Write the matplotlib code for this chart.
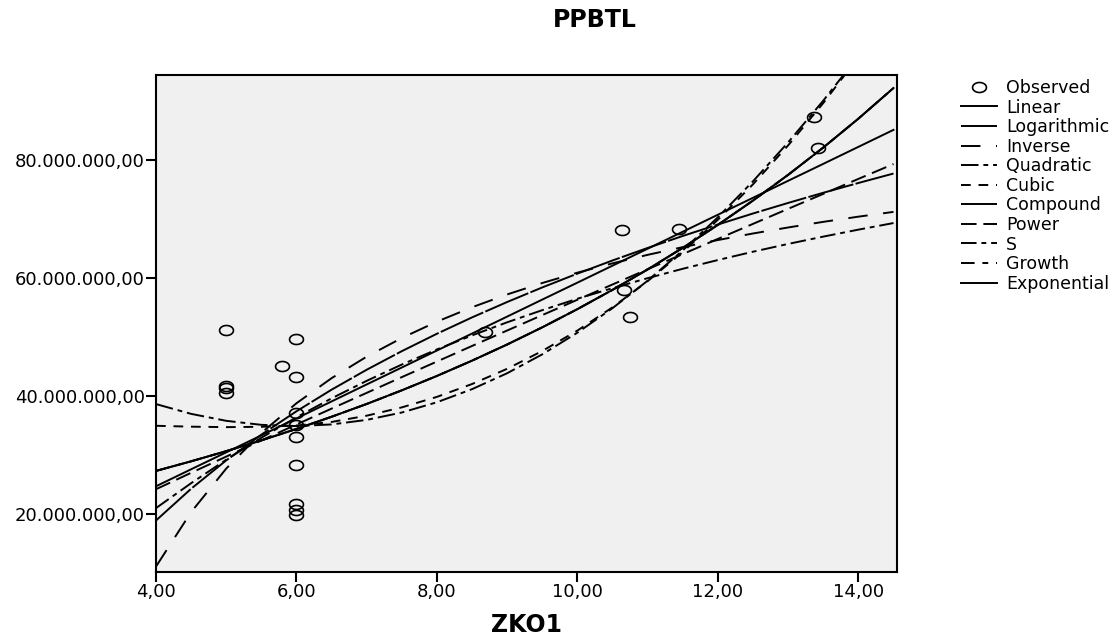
import numpy as np
import matplotlib
matplotlib.use("Agg")
import matplotlib.pyplot as plt
from matplotlib.path import Path
from matplotlib.ticker import FixedLocator, FuncFormatter

# ---------------- data (y values in millions) ----------------
obs_x = [5, 5, 5, 5, 5.8, 6, 6, 6, 6, 6, 6, 6, 6, 6,
         8.68, 10.63, 10.66, 10.75, 11.45, 13.37, 13.42]
obs_y = [51.2, 41.7, 41.3, 40.5, 45.0, 49.6, 43.3, 37.2, 35.0, 33.1, 28.3, 21.7, 20.7, 19.8,
         50.8, 68.1, 58.0, 53.4, 68.3, 87.2, 82.0]

fit_x = [4.0, 4.5, 5.0, 5.5, 6.0, 6.5, 7.0, 7.5, 8.0, 8.5, 9.0,
         9.5, 10.0, 10.5, 11.0, 11.5, 12.0, 12.5, 13.0, 13.5, 14.0, 14.5]

linear = [24.70, 27.58, 30.45, 33.33, 36.20, 39.08, 41.96, 44.83, 47.71, 50.58, 53.46,
          56.34, 59.21, 62.09, 64.96, 67.84, 70.72, 73.59, 76.47, 79.34, 82.22, 85.10]
logarithmic = [18.90, 24.28, 29.09, 33.44, 37.41, 41.07, 44.45, 47.60, 50.55, 53.32, 55.93,
               58.40, 60.74, 62.97, 65.09, 67.12, 69.06, 70.93, 72.72, 74.44, 76.10, 77.70]
inverse = [11.10, 20.32, 27.70, 33.74, 38.77, 43.02, 46.67, 49.83, 52.60, 55.04, 57.21,
           59.15, 60.90, 62.48, 63.92, 65.23, 66.43, 67.54, 68.56, 69.51, 70.39, 71.20]
quadratic = [38.63, 36.97, 35.79, 35.11, 34.90, 35.18, 35.95, 37.20, 38.94, 41.16, 43.86,
             47.06, 50.73, 54.89, 59.54, 64.67, 70.29, 76.39, 82.98, 90.05, 97.60, 105.64]
cubic = [34.95, 34.80, 34.72, 34.78, 35.00, 35.60, 36.66, 38.07, 39.85, 42.03, 44.61,
         47.63, 51.09, 55.03, 59.46, 64.40, 69.87, 75.88, 82.47, 89.64, 97.43, 105.84]
exp_fit = [27.30, 28.93, 30.65, 32.48, 34.42, 36.48, 38.65, 40.96, 43.40, 45.99, 48.73,
           51.64, 54.72, 57.99, 61.45, 65.11, 69.00, 73.12, 77.48, 82.10, 87.00, 92.19]
power = [24.20, 26.98, 29.73, 32.46, 35.17, 37.86, 40.53, 43.20, 45.84, 48.48, 51.10,
         53.71, 56.31, 58.90, 61.48, 64.05, 66.62, 69.17, 71.72, 74.25, 76.79, 79.31]
s_curve = [21.00, 25.22, 29.20, 32.92, 36.39, 39.60, 42.57, 45.33, 47.89, 50.27, 52.49,
           54.55, 56.48, 58.28, 59.97, 61.56, 63.04, 64.45, 65.77, 67.01, 68.19, 69.31]

series = [
    ("Linear", linear), ("Logarithmic", logarithmic), ("Inverse", inverse),
    ("Quadratic", quadratic), ("Cubic", cubic), ("Compound", exp_fit),
    ("Power", power), ("S", s_curve), ("Growth", exp_fit), ("Exponential", exp_fit),
]
x_ticks = [4, 6, 8, 10, 12, 14]
y_ticks = [20, 40, 60, 80]

# ---------------- styling ----------------
styles = {
    "Linear": "-", "Logarithmic": (0, (24, 1.2)), "Inverse": (0, (10, 8)),
    "Quadratic": (0, (9, 2.5, 2.5, 2.5)), "Cubic": (0, (5, 4)), "Compound": (0, (24, 1.2)),
    "Power": (0, (8, 3.5)), "S": (0, (8, 2.5, 2.5, 2.5)), "Growth": (0, (7, 4, 3, 4)),
    "Exponential": "-",
}

plt.rcParams["font.family"] = ["DejaVu Sans"]
W, H = 1119, 637
fig = plt.figure(figsize=(W / 100, H / 100), dpi=100)
ax = fig.add_axes([156 / W, 1 - 572 / H, (897 - 156) / W, (572 - 75) / H])
ax.set_facecolor("#f0f0f0")
ax.set_xlim(4, 14.55)
ax.set_ylim(10.17, 94.4)

theta = np.linspace(0, 2 * np.pi, 60)
ellipse = Path(np.c_[np.cos(theta), 0.72 * np.sin(theta)])
ax.plot(obs_x, obs_y, linestyle="none", marker=ellipse, markersize=10,
        mfc="none", mec="black", mew=1.2, label="Observed")
for name, vals in series:
    ax.plot(fit_x, vals, color="black", lw=1.4, linestyle=styles[name], label=name)

ax.xaxis.set_major_locator(FixedLocator(x_ticks))
ax.xaxis.set_major_formatter(FuncFormatter(lambda v, p: f"{v:.2f}".replace(".", ",")))
ax.yaxis.set_major_locator(FixedLocator(y_ticks))
ax.yaxis.set_major_formatter(FuncFormatter(
    lambda v, p: f"{v * 1e6:,.2f}".replace(",", "X").replace(".", ",").replace("X", ".")))
ax.tick_params(labelsize=13, length=7, width=1.5, pad=1)
for s in ax.spines.values():
    s.set_linewidth(1.5)

fig.text(526 / W, 1 - 625 / H, "ZKO1", fontsize=17, fontweight="bold", ha="center", va="center")
fig.text(595 / W, 1 - 20 / H, "PPBTL", fontsize=17, fontweight="bold", ha="center", va="center")

ax.legend(loc="upper left", bbox_to_anchor=(961 / W, 1 - 79 / H), bbox_transform=fig.transFigure,
          frameon=False, fontsize=12.5, labelspacing=0.09, handlelength=2.1, handletextpad=0.5,
          borderpad=0, borderaxespad=0)

fig.savefig("out.png")
